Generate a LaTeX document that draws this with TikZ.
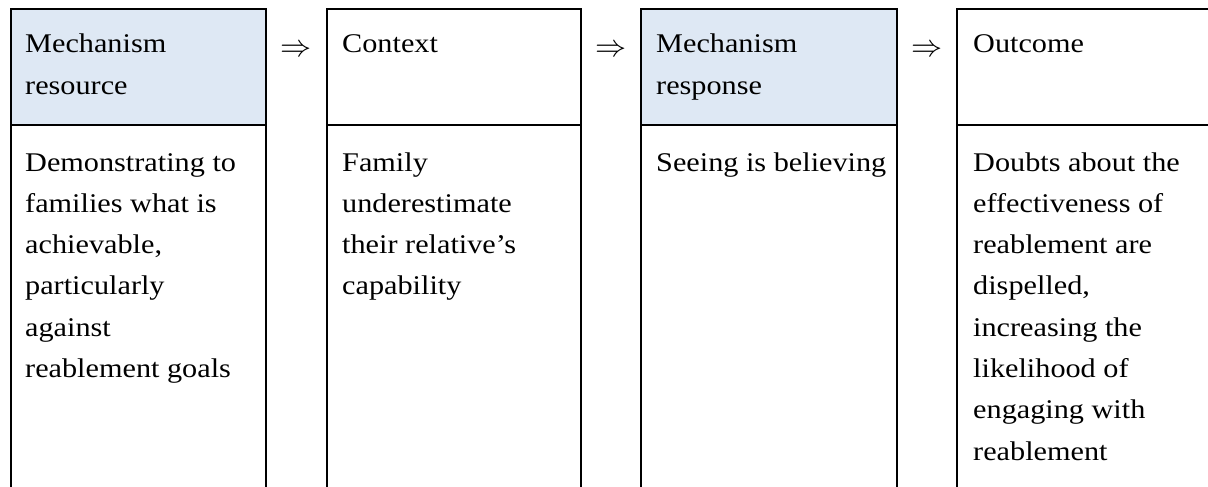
\documentclass[tikz,border=0pt]{standalone}
\usepackage{fontspec}
\setmainfont{Liberation Serif}[FakeStretch=1.12]
% a block of lines whose baseline is that of its first line
\newcommand{\celllines}[1]{\begin{tabular}[t]{@{}l@{}}#1\end{tabular}}
\begin{document}
\begin{tikzpicture}[x=1pt,y=-1pt,
  frame/.style={line width=2pt,black},
  headfill/.style={fill=hdrblue},
  label/.style={anchor=base west,inner sep=0pt,
    font=\fontsize{27}{41.3}\selectfont},
  implies/.style={inner sep=0pt,font=\fontsize{24.88}{30}\selectfont}]
\definecolor{hdrblue}{HTML}{DEE8F4}
\useasboundingbox (0,0) rectangle (1208,487);
\clip (0,0) rectangle (1208,487);

% shaded header cells
\fill[headfill] (11,9) rectangle (266,125);
\fill[headfill] (641,9) rectangle (897,125);

% column frames (open at the bottom)
\foreach \l/\r in {11/266, 327/581, 641/897, 957/1220}{
  \draw[frame] (\l,500) -- (\l,9) -- (\r,9) -- (\r,500);
  \draw[frame] (\l,125) -- (\r,125);
}

% header texts
\node[label] (h1) at (25,53) {\celllines{Mechanism\\resource}};
\node[label] (h2) at (342,53) {\celllines{Context}};
\node[label] (h3) at (656,53) {\celllines{Mechanism\\response}};
\node[label] (h4) at (973,53) {\celllines{Outcome}};

% body texts
\node[label] (b1) at (25,171) {\celllines{Demonstrating to\\families what is\\achievable,\\particularly\\against\\reablement goals}};
\node[label] (b2) at (342,171) {\celllines{Family\\underestimate\\their relative’s\\capability}};
\node[label] (b3) at (656,171) {\celllines{Seeing is believing}};
\node[label] (b4) at (973,171) {\celllines{Doubts about the\\effectiveness of\\reablement are\\dispelled,\\increasing the\\likelihood of\\engaging with\\reablement}};

% implication arrows between the columns
\node[implies] (a1) at (296,51) {\scalebox{1.25}{$\Rightarrow$}};
\node[implies] (a2) at (611,51) {\scalebox{1.25}{$\Rightarrow$}};
\node[implies] (a3) at (927,51) {\scalebox{1.25}{$\Rightarrow$}};
\end{tikzpicture}
\end{document}
